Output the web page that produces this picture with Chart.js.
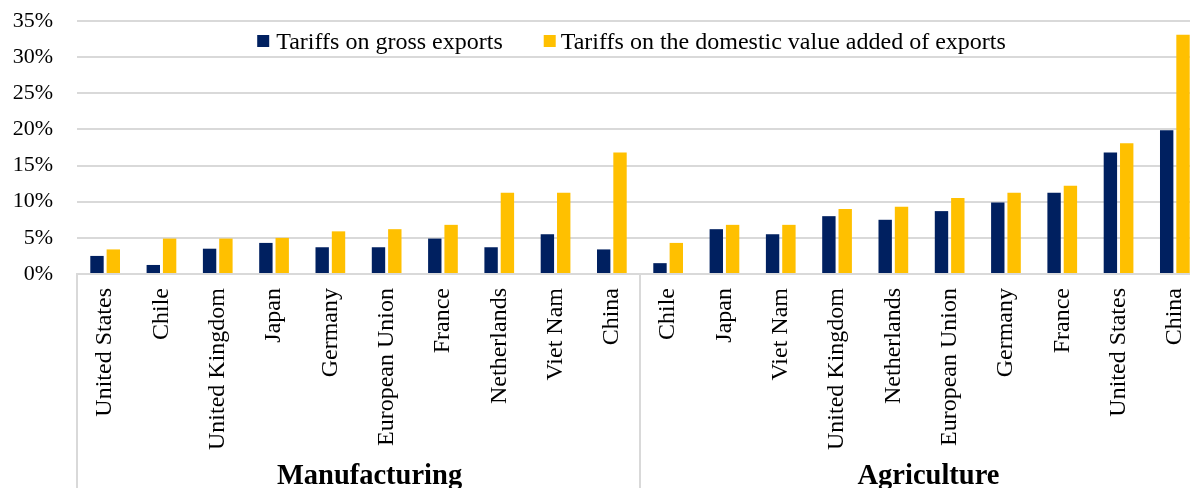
<!DOCTYPE html>
<html>
<head>
<meta charset="utf-8">
<script src="https://cdn.jsdelivr.net/npm/chart.js@4.4.1/dist/chart.umd.min.js"></script>
<style>
  html, body { margin: 0; padding: 0; overflow: hidden; background: #ffffff; }
  #wrap { width: 1204px; height: 488px; }
</style>
</head>
<body>
<div id="wrap"><canvas id="c" width="1204" height="488"></canvas></div>
<script>
// ---- data ----
const categories = ["United States","Chile","United Kingdom","Japan","Germany","European Union","France","Netherlands","Viet Nam","China",
                    "Chile","Japan","Viet Nam","United Kingdom","Netherlands","European Union","Germany","France","United States","China"];
const grossExports = [2.5, 1.25, 3.5, 4.3, 3.7, 3.7, 4.9, 3.7, 5.5, 3.4,
                      1.5, 6.2, 5.5, 8.0, 7.5, 8.7, 9.9, 11.25, 16.8, 19.9];
const domesticVA   = [3.4, 4.9, 4.9, 5.0, 5.9, 6.2, 6.8, 11.25, 11.25, 16.8,
                      4.3, 6.8, 6.8, 9.0, 9.3, 10.5, 11.25, 12.2, 18.1, 33.1];
const seriesNames = ["Tariffs on gross exports", "Tariffs on the domestic value added of exports"];
const groupNames = ["Manufacturing", "Agriculture"];
const groupSizes = [10, 10];
const yTicks = [0, 5, 10, 15, 20, 25, 30, 35];

const SERIF = "'Liberation Serif', 'Times New Roman', serif";
const GRID = '#d9d9d9';
const colors = ['#002060', '#FFC000'];

// custom legend inside the plot area
const legendPlugin = {
  id: 'innerLegend',
  afterDatasetsDraw(chart) {
    const ctx = chart.ctx;
    ctx.save();
    ctx.font = '24px ' + SERIF;
    const w = chart.data.datasets.map(d => ctx.measureText(d.label).width);
    const box = 12, gapText = 7, gapItem = 41;
    const total = box + gapText + w[0] + gapItem + box + 5 + w[1];
    let x = 631.5 - total / 2;
    const boxTop = chart.chartArea.top + 14;
    const base = chart.chartArea.top + 28;
    chart.data.datasets.forEach((d, i) => {
      ctx.fillStyle = d.backgroundColor;
      ctx.fillRect(x, boxTop, box, box);
      x += box + (i === 0 ? gapText : 5);
      ctx.fillStyle = '#000';
      ctx.textBaseline = 'alphabetic';
      ctx.textAlign = 'left';
      ctx.fillText(d.label, x, base);
      x += w[i] + gapItem;
    });
    ctx.restore();
  }
};

// group separators and group labels under the category axis
const groupPlugin = {
  id: 'groups',
  afterDraw(chart) {
    const ctx = chart.ctx;
    const area = chart.chartArea;
    const step = (area.right - area.left) / categories.length;
    ctx.save();
    ctx.strokeStyle = GRID;
    ctx.lineWidth = 2;
    let idx = 0;
    const bounds = [area.left];
    groupSizes.forEach(n => { idx += n; bounds.push(area.left + idx * step); });
    bounds.forEach(bx => {
      ctx.beginPath();
      ctx.moveTo(bx, area.bottom);
      ctx.lineTo(bx, chart.height);
      ctx.stroke();
    });
    ctx.fillStyle = '#000';
    ctx.font = 'bold 28.5px ' + SERIF;
    ctx.textAlign = 'center';
    ctx.textBaseline = 'alphabetic';
    groupNames.forEach((g, i) => {
      const cx = (bounds[i] + bounds[i + 1]) / 2 + (i === 0 ? 11 : 7);
      ctx.fillText(g, cx, 484);
    });
    ctx.restore();
  }
};

new Chart(document.getElementById('c'), {
  type: 'bar',
  data: {
    labels: categories,
    datasets: [
      { label: seriesNames[0], data: grossExports, backgroundColor: colors[0],
        categoryPercentage: 0.58, barPercentage: 0.82 },
      { label: seriesNames[1], data: domesticVA, backgroundColor: colors[1],
        categoryPercentage: 0.58, barPercentage: 0.82 }
    ]
  },
  options: {
    responsive: false,
    animation: false,
    devicePixelRatio: 1,
    layout: { padding: { top: 21, left: 0, right: 1, bottom: 0 } },
    plugins: {
      legend: { display: false },
      title: { display: false },
      tooltip: { enabled: false }
    },
    scales: {
      x: {
        grid: { display: false, drawTicks: false },
        border: { display: true, color: GRID, width: 2 },
        ticks: {
          autoSkip: false, minRotation: 90, maxRotation: 90, padding: 14,
          color: '#000', font: { family: SERIF, size: 24 }
        },
        afterFit(scale) {
          scale.height = 214;
          scale.paddingLeft = 0; scale.paddingRight = 0;
        }
      },
      y: {
        min: 0, max: 35,
        afterBuildTicks(scale) { scale.ticks = yTicks.map(v => ({ value: v })); },
        grid: { color: GRID, lineWidth: 2, drawTicks: false },
        border: { display: false },
        ticks: {
          padding: 24, color: '#000', font: { family: SERIF, size: 22 },
          callback: v => v + '%'
        },
        afterFit(scale) {
          scale.width = 77;
          scale.paddingTop = 0; scale.paddingBottom = 0;
        }
      }
    }
  },
  plugins: [legendPlugin, groupPlugin]
});
</script>
</body>
</html>
